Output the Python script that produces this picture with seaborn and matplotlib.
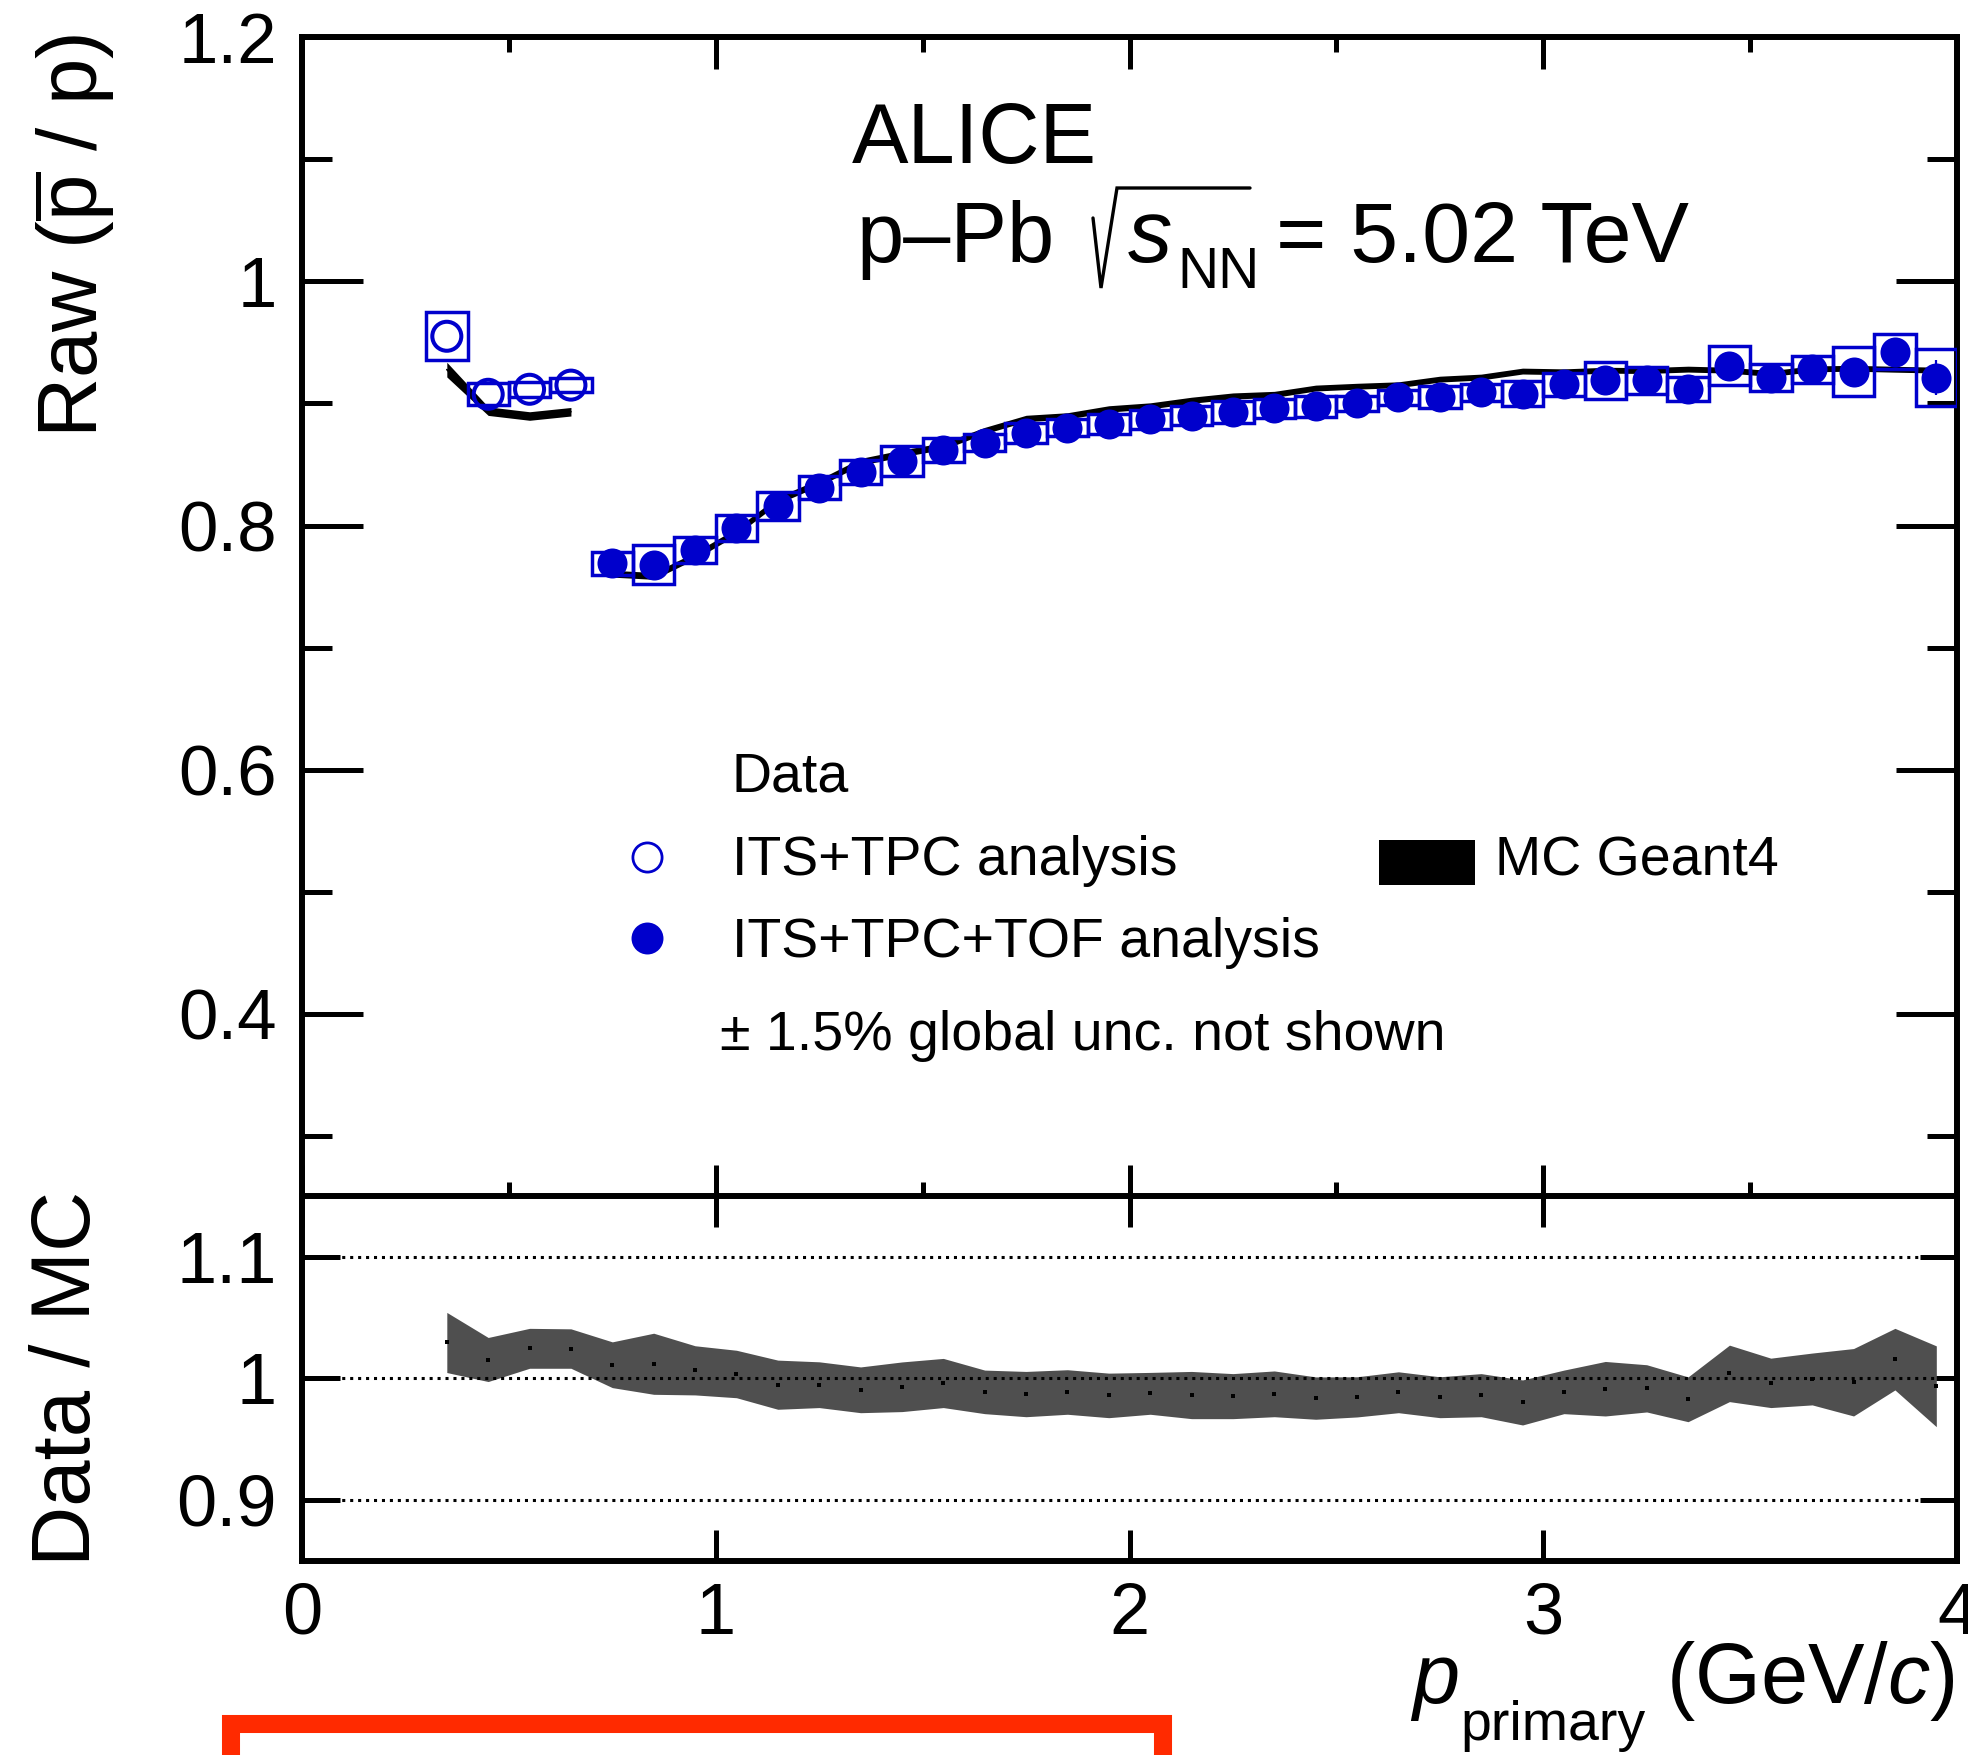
import numpy as np
import pandas as pd
import matplotlib
matplotlib.use("Agg")
import matplotlib.pyplot as plt
import seaborn as sns
from matplotlib.patches import Rectangle
from matplotlib.lines import Line2D
from matplotlib.ticker import MultipleLocator, FuncFormatter

# ---------------- data ----------------
bin_width = 0.1

# ITS+TPC analysis (open circles)
pt_tpc = [0.35, 0.45, 0.55, 0.65]
val_tpc = [0.955, 0.9075, 0.9116, 0.915]
syst_tpc = [0.0197, 0.009, 0.006, 0.006]

# ITS+TPC+TOF analysis (filled circles)
pt_tof = [0.75, 0.85, 0.95, 1.05, 1.15, 1.25, 1.35, 1.45, 1.55, 1.65, 1.75,
          1.85, 1.95, 2.05, 2.15, 2.25, 2.35, 2.45, 2.55, 2.65, 2.75, 2.85,
          2.95, 3.05, 3.15, 3.25, 3.35, 3.45, 3.55, 3.65, 3.75, 3.85, 3.95]
val_tof = [0.769, 0.768, 0.780, 0.798, 0.816, 0.831, 0.844, 0.853, 0.862, 0.868,
           0.876, 0.880, 0.883, 0.887, 0.890, 0.893, 0.896, 0.8975, 0.900, 0.905,
           0.9053, 0.909, 0.908, 0.9157, 0.919, 0.919, 0.912, 0.931, 0.9212,
           0.928, 0.926, 0.9425, 0.921]
syst_tof = [0.0096, 0.016, 0.011, 0.0107, 0.0116, 0.0096, 0.0096, 0.0123, 0.010,
            0.007, 0.008, 0.007, 0.008, 0.008, 0.008, 0.009, 0.008, 0.009, 0.006,
            0.006, 0.009, 0.007, 0.0105, 0.0096, 0.015, 0.011, 0.0096, 0.0157,
            0.0113, 0.011, 0.020, 0.014, 0.0235]
stat_tof = [0.0, 0.0, 0.0, 0.0, 0.0, 0.0, 0.0, 0.0, 0.0, 0.0, 0.0, 0.0, 0.0,
            0.0, 0.0, 0.0, 0.0, 0.0, 0.0, 0.0, 0.0, 0.0, 0.0, 0.0, 0.0, 0.0,
            0.0, 0.0, 0.0, 0.0, 0.0, 0.0, 0.0143]

# MC Geant4 band
pt_mc_low = [0.35, 0.45, 0.55, 0.65]
mc_low = [0.9277, 0.8937, 0.8897, 0.8932]
mc_low_err = [0.006, 0.0035, 0.0035, 0.0035]
pt_mc_high = pt_tof
mc_high = [0.7606, 0.7588, 0.7753, 0.795, 0.8208, 0.8352, 0.8522, 0.8591, 0.8651,
           0.8778, 0.8877, 0.8898, 0.8955, 0.898, 0.9026, 0.9061, 0.9074, 0.9126,
           0.9141, 0.9153, 0.9199, 0.9216, 0.9265, 0.9259, 0.9272, 0.9269, 0.9281,
           0.9272, 0.9245, 0.9283, 0.9288, 0.928, 0.9273]
mc_high_err = [0.0028, 0.0028, 0.0028, 0.0028, 0.0028, 0.0028, 0.0028, 0.0028,
               0.0028, 0.0026, 0.0026, 0.0026, 0.0026, 0.0025, 0.0025, 0.0025,
               0.0025, 0.0024, 0.0024, 0.0024, 0.0024, 0.0024, 0.0024, 0.0024,
               0.0024, 0.0024, 0.0024, 0.0024, 0.0024, 0.0024, 0.0024, 0.0024,
               0.0024]

# Data / MC
pt_ratio = pt_tpc + pt_tof
data_mc = [1.0294, 1.0154, 1.0246, 1.0244, 1.0111, 1.0119, 1.0065, 1.0035, 0.9947,
           0.9947, 0.9905, 0.9930, 0.9961, 0.9888, 0.9870, 0.9887, 0.9859, 0.9876,
           0.9862, 0.9853, 0.9872, 0.9837, 0.9847, 0.9885, 0.9844, 0.9861, 0.9801,
           0.9888, 0.9914, 0.9917, 0.9827, 1.0040, 0.9962, 0.9994, 0.9967, 1.0157,
           0.9934]
data_mc_err = [0.0247, 0.0181, 0.0164, 0.0162, 0.0188, 0.0251, 0.0202, 0.0195,
               0.0202, 0.0188, 0.0188, 0.0204, 0.0202, 0.0179, 0.0186, 0.0183,
               0.0183, 0.0172, 0.0194, 0.0185, 0.0188, 0.0174, 0.0165, 0.0168,
               0.0168, 0.0177, 0.0185, 0.0179, 0.0224, 0.0194, 0.0184, 0.0232,
               0.0203, 0.0213, 0.0277, 0.0253, 0.0332]

x_ticks = [0, 1, 2, 3, 4]
y_ticks_top = [0.4, 0.6, 0.8, 1.0, 1.2]
y_ticks_ratio = [0.9, 1.0, 1.1]

# ---------------- style ----------------
sns.set_style("ticks")
plt.rcParams["font.family"] = ["Liberation Sans", "DejaVu Sans"]
plt.rcParams["mathtext.fontset"] = "custom"
plt.rcParams["mathtext.rm"] = "Liberation Sans"
plt.rcParams["mathtext.it"] = "Liberation Sans:italic"
plt.rcParams["mathtext.bf"] = "Liberation Sans:bold"
plt.rcParams["axes.linewidth"] = 4.3
for key in ("text.color", "axes.labelcolor", "xtick.color", "ytick.color",
            "xtick.labelcolor", "ytick.labelcolor", "axes.edgecolor"):
    plt.rcParams[key] = "black"

BLUE = "#0000cc"
GREY = "#4f4f4f"
W, H = 1968, 1755

def fx(x):
    return x / W

def fy(y):
    return 1 - y / H

fig = plt.figure(figsize=(W / 100, H / 100), dpi=100)
fig.patch.set_facecolor("white")

ax1 = fig.add_axes([fx(302), fy(1197.4), 1655 / W, (1197.4 - 37) / H])
ax2 = fig.add_axes([fx(302), fy(1560.8), 1655 / W, (1560.8 - 1195.7) / H])

# ---------------- top panel ----------------
df_tpc = pd.DataFrame({"pt": pt_tpc, "val": val_tpc, "syst": syst_tpc})
df_tof = pd.DataFrame({"pt": pt_tof, "val": val_tof, "syst": syst_tof, "stat": stat_tof})

# MC band
for px, mv, me in [(pt_mc_low, mc_low, mc_low_err), (pt_mc_high, mc_high, mc_high_err)]:
    mv = np.asarray(mv)
    me = np.asarray(me)
    ax1.fill_between(px, mv - me, mv + me, color="black", lw=0, zorder=2)
    sns.lineplot(x=px, y=mv, ax=ax1, color="black", lw=1.2, zorder=2, legend=False)

# systematic boxes
for d in (df_tpc, df_tof):
    for x, y, e in zip(d["pt"], d["val"], d["syst"]):
        ax1.add_patch(Rectangle((x - bin_width / 2, y - e), bin_width, 2 * e,
                                fill=False, ec=BLUE, lw=2.5, zorder=3))

# stat error bars (visible only where larger than marker)
sel = df_tof[df_tof["stat"] > 0]
ax1.errorbar(sel["pt"], sel["val"], yerr=sel["stat"], fmt="none", ecolor=BLUE,
             elinewidth=1.6, capsize=0, zorder=3)

sns.scatterplot(data=df_tof, x="pt", y="val", ax=ax1, s=467, color=BLUE,
                linewidth=0, zorder=5, legend=False)
sns.scatterplot(data=df_tpc, x="pt", y="val", ax=ax1, s=436, color=BLUE,
                linewidth=2.9, zorder=5, legend=False)
open_pts = ax1.collections[-1]
open_pts.set_facecolor("none")
open_pts.set_edgecolor(BLUE)

ax1.set_xlim(0, 4)
ax1.set_ylim(0.25, 1.2)
ax1.set_xlabel("")
ax1.set_ylabel("")
ax1.xaxis.set_major_locator(plt.FixedLocator(x_ticks))
ax1.xaxis.set_minor_locator(MultipleLocator(0.5))
ax1.yaxis.set_major_locator(plt.FixedLocator(y_ticks_top))
ax1.yaxis.set_minor_locator(MultipleLocator(0.1))
fmt = FuncFormatter(lambda v, p: f"{v:g}")
ax1.yaxis.set_major_formatter(fmt)
ax1.tick_params(which="both", direction="in", top=True, right=True, width=3.6,
                color="black", labelcolor="black")
ax1.tick_params(axis="x", which="major", length=23)
ax1.tick_params(axis="x", which="minor", length=11)
ax1.tick_params(axis="y", which="major", length=44)
ax1.tick_params(axis="y", which="minor", length=21.6)
ax1.tick_params(axis="x", labelbottom=False)
ax1.tick_params(axis="y", labelsize=51, pad=18)

# ---------------- ratio panel ----------------
r = np.asarray(data_mc)
re = np.asarray(data_mc_err)
ax2.fill_between(pt_ratio, r - re, r + re, color=GREY, lw=0, zorder=2)
for v in y_ticks_ratio:
    ax2.axhline(v, color="black", lw=2.2, ls=(0, (1, 1.6)), zorder=3)
sns.scatterplot(x=pt_ratio, y=data_mc, ax=ax2, s=6, marker="s", color="black",
                linewidth=0, zorder=4, legend=False)
ax2.set_xlim(0, 4)
ax2.set_ylim(0.85, 1.15)
ax2.set_xlabel("")
ax2.set_ylabel("")
ax2.xaxis.set_major_locator(plt.FixedLocator(x_ticks))
ax2.yaxis.set_major_locator(plt.FixedLocator(y_ticks_ratio))
ax2.xaxis.set_major_formatter(fmt)
ax2.yaxis.set_major_formatter(fmt)
ax2.minorticks_off()
ax2.tick_params(which="both", direction="in", top=True, right=True, width=3.6,
                color="black", labelcolor="black")
ax2.tick_params(axis="x", which="major", length=22, labelsize=52, pad=15)
ax2.tick_params(axis="y", which="major", length=27, labelsize=52, pad=18)

for a in (ax1, ax2):
    for s in a.spines.values():
        s.set_linewidth(4.3)
        s.set_color("black")

# ---------------- texts ----------------
TXT = dict(color="black", ha="left", va="baseline")
fig.text(fx(851.6), fy(163.3), "ALICE", fontsize=61, **TXT)
fig.text(fx(857), fy(261.7), "p–Pb", fontsize=61, **TXT)
# square-root sign drawn as a thin polyline
fig.add_artist(Line2D([fx(1093), fx(1101), fx(1117), fx(1250)],
                      [fy(218), fy(288), fy(188), fy(188)], color="black",
                      lw=2.4, solid_joinstyle="miter", transform=fig.transFigure))
fig.text(fx(1128), fy(261.7), "s", fontsize=64, fontstyle="italic", **TXT)
fig.text(fx(1177), fy(288), "NN", fontsize=41, **TXT)
fig.text(fx(1276), fy(261.7), "= 5.02 TeV", fontsize=62, **TXT)

fig.text(fx(98), fy(33), r"Raw ($\overline{\mathrm{p}}$ / p)", fontsize=60,
         rotation=90, rotation_mode="anchor", ha="right", va="baseline",
         color="black")
fig.text(fx(90), fy(1378), "Data / MC", fontsize=60, rotation=90,
         rotation_mode="anchor", ha="center", va="baseline", color="black")

fig.text(fx(1412), fy(1703), "p", fontsize=61, fontstyle="italic", **TXT)
fig.text(fx(1460), fy(1740), "primary", fontsize=40, **TXT)
fig.text(fx(1666), fy(1703), r"(GeV/$c$)", fontsize=61, **TXT)

# legend
fig.text(fx(732), fy(791.7), "Data", fontsize=40, **TXT)
fig.text(fx(732), fy(875), "ITS+TPC analysis", fontsize=40, **TXT)
fig.text(fx(732), fy(956.7), "ITS+TPC+TOF analysis", fontsize=40, **TXT)
fig.text(fx(720.5), fy(1050), "± 1.5% global unc. not shown", fontsize=40, **TXT)
fig.text(fx(1495), fy(875), "MC Geant4", fontsize=40, **TXT)
fig.add_artist(Line2D([fx(647)], [fy(857)], marker="o", ms=21, mfc="none",
                      mec=BLUE, mew=2.0, transform=fig.transFigure))
fig.add_artist(Line2D([fx(647)], [fy(938)], marker="o", ms=23, mfc=BLUE,
                      mec=BLUE, mew=0, transform=fig.transFigure))
fig.add_artist(Rectangle((fx(1379), fy(885)), 96 / W, 45 / H, fc="black",
                         ec="black", lw=0, transform=fig.transFigure))

# red annotation box at the bottom
fig.add_artist(Rectangle((fx(231), fy(1800)), (1163 - 231) / W, (1800 - 1724) / H,
                         fill=False, ec="#ff2a00", lw=13, transform=fig.transFigure))

fig.savefig("out.png", dpi=100, facecolor="white")
